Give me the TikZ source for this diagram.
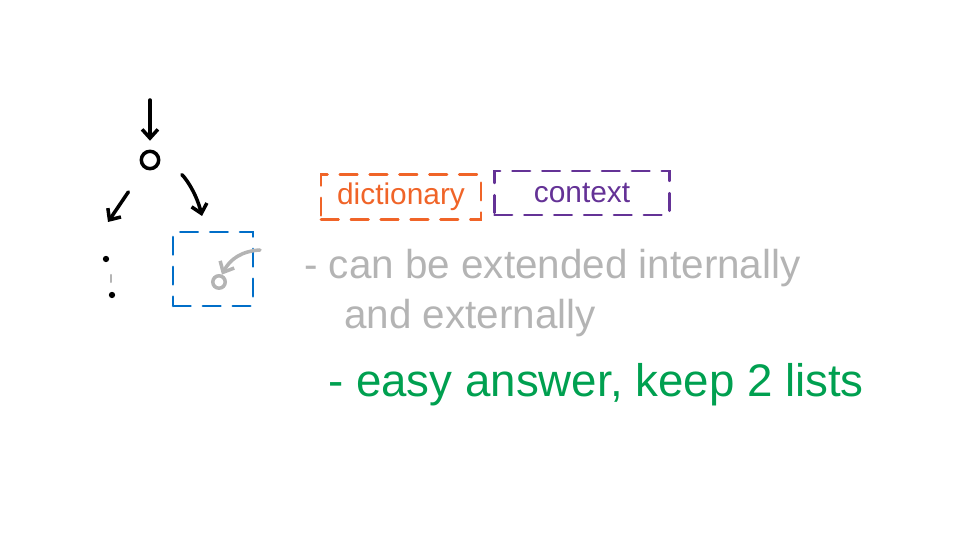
\documentclass[tikz,border=0pt]{standalone}
\usepackage{fontspec}
\setmainfont{Liberation Sans}
\usetikzlibrary{arrows.meta}
\definecolor{inkorange}{RGB}{240,100,40}
\definecolor{inkpurple}{RGB}{100,50,150}
\definecolor{inkblue}{RGB}{0,110,200}
\definecolor{inkgray}{RGB}{180,180,180}
\definecolor{inkgreen}{RGB}{0,160,80}
\begin{document}
\begin{tikzpicture}[x=0.02cm, y=-0.02cm, line cap=round,
  >={Straight Barb[length=5pt,width=9pt]},
  inkarrow/.style={->, line width=2pt},
  dashbox/.style={draw, dashed, line width=1.5pt, dash pattern=on 10pt off 7pt, inner sep=0pt},
  every node/.style={font=\fontsize{17}{20}\selectfont}]
\useasboundingbox (0,0) rectangle (961,546);
% tree on the left
\coordinate (top) at (150,100);
\node[circle, draw, line width=2pt, inner sep=3.5pt] (root) at (150,160) {};
\coordinate (leftend) at (108,222);
\coordinate (rightend) at (202,216);
\draw[inkarrow, shorten >=5pt] (top) -- (root.north);
\draw[inkarrow, shorten <=16pt] (root) -- (leftend);
\draw[inkarrow, shorten <=14pt] (root) to[bend left=25] (rightend);
\fill (106,259) circle (1.8pt);
\draw[inkgray, line width=1.2pt] (111,275) -- (111,282);
\fill (112,295) circle (1.8pt);
\node[dashbox, draw=inkblue, minimum width=1.6cm, minimum height=1.48cm] (slot) at (213,269) {};
\node[circle, draw=inkgray, line width=2pt, inner sep=2.5pt] (hook) at (219,282) {};
\coordinate (hookstart) at (260,250);
\draw[inkarrow, inkgray] (hookstart) to[bend right=30] (hook);
% the two boxes
\node[dashbox, draw=inkorange, text=inkorange, minimum width=3.2cm, minimum height=0.9cm] (dict) at (401,197) {dictionary};
\node[dashbox, draw=inkpurple, text=inkpurple, minimum width=3.5cm, minimum height=0.88cm] (ctx) at (582,193) {context};
% notes
\node[anchor=west, text=inkgray, font=\fontsize{23}{27}\selectfont] (note1) at (298,268) {- can be extended internally};
\node[anchor=west, text=inkgray, font=\fontsize{23}{27}\selectfont] (note2) at (338,318) {and externally};
\node[anchor=west, text=inkgreen, font=\fontsize{26}{30}\selectfont] (note3) at (322,385) {- easy answer, keep 2 lists};
\end{tikzpicture}
\end{document}
